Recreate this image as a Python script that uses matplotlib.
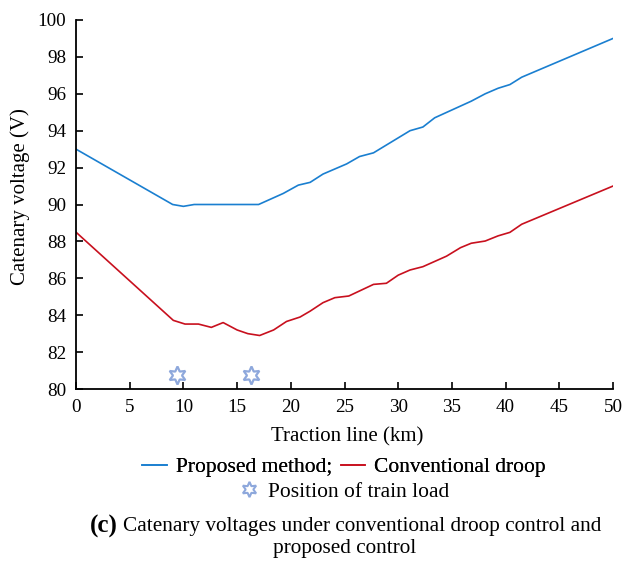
import matplotlib
matplotlib.use("Agg")
import matplotlib.pyplot as plt
from matplotlib.lines import Line2D

plt.rcParams['font.family'] = ['Liberation Serif', 'DejaVu Serif']

# Data
prop_x = [0, 9, 10, 11, 17, 19.3, 20.7, 21.8, 23, 25.2, 26.4, 27.7, 31.1, 32.3, 33.4,
          36.8, 38.1, 39.3, 40.4, 41.5, 50]
prop_y = [93, 90, 89.9, 90, 90, 90.6, 91.05, 91.2, 91.65, 92.2, 92.6, 92.8, 94.0, 94.2,
          94.7, 95.6, 96.0, 96.3, 96.5, 96.9, 99.0]
conv_x = [0, 9.06, 10.15, 11.4, 12.6, 13.7, 15.0, 16.0, 17.1, 18.4, 19.6, 20.86, 21.8,
          23.0, 24.1, 25.4, 27.7, 28.9, 30.0, 31.1, 32.3, 34.5, 35.8, 36.8, 38.1, 39.3,
          40.4, 41.5, 50]
conv_y = [88.5, 83.72, 83.52, 83.52, 83.34, 83.6, 83.2, 83.0, 82.9, 83.2, 83.66, 83.9,
          84.22, 84.68, 84.95, 85.04, 85.67, 85.73, 86.17, 86.45, 86.63, 87.2, 87.66,
          87.9, 88.02, 88.3, 88.49, 88.93, 91.0]
train_x = [9.4, 16.3]
train_y = [80.75, 80.75]
xticks = [0, 5, 10, 15, 20, 25, 30, 35, 40, 45, 50]
yticks = [80, 82, 84, 86, 88, 90, 92, 94, 96, 98, 100]

W, H = 624, 567
fig = plt.figure(figsize=(W/100, H/100), dpi=100)
ax = fig.add_axes([76/W, 1-389/H, (613-76)/W, (389-20)/H])

blue = '#1a7fd0'
red = '#c8101e'
star_c = '#8ea8dc'

ax.plot(prop_x, prop_y, color=blue, lw=1.2)
ax.plot(conv_x, conv_y, color=red, lw=1.2)
ax.plot(train_x, train_y, ls='none', marker=(6, 1, 0), ms=13, mfc='white',
        mec=star_c, mew=1.6)

ax.set_xlim(0, 50)
ax.set_ylim(80, 100)
ax.set_xticks(xticks)
ax.set_yticks(yticks)
for s in ['top', 'right']:
    ax.spines[s].set_visible(False)
for s in ['left', 'bottom']:
    ax.spines[s].set_linewidth(1.3)
ax.tick_params(direction='in', length=5, width=1.2, labelsize=13.8)
ax.tick_params(axis='y', pad=7)
ax.tick_params(axis='x', pad=7)

fig.text(347/W, 1-437/H, 'Traction line (km)', ha='center', va='center', fontsize=15)
fig.text(20/W, 1-197/H, 'Catenary voltage (V)', ha='center', va='center',
         rotation=90, fontsize=15)

h1 = [Line2D([], [], color=blue, lw=1.2), Line2D([], [], color=red, lw=1.2)]
leg1 = fig.legend(h1, ['Proposed method;', 'Conventional droop'], ncol=2,
                  loc='center', bbox_to_anchor=(344/W, 1-467/H), frameon=False,
                  fontsize=15.5, handlelength=1.15, handletextpad=0.4,
                  columnspacing=0.4, borderpad=0, borderaxespad=0)
h2 = [Line2D([], [], ls='none', marker=(6, 1, 0), ms=11, mfc='white', mec=star_c, mew=1.5)]
leg2 = fig.legend(h2, ['Position of train load'], loc='center',
                  bbox_to_anchor=(344/W, 1-492/H), frameon=False, fontsize=15.5,
                  handlelength=1.0, handletextpad=0.4, borderpad=0, borderaxespad=0)
fig.add_artist(leg1)

fig.text(118/W, 1-526/H, '(c)', ha='right', va='center', fontsize=18,
         fontweight='bold')
fig.text(123/W, 1-526/H, 'Catenary voltages under conventional droop control and',
         ha='left', va='center', fontsize=15.3)
fig.text(345/W, 1-549/H, 'proposed control', ha='center', va='center', fontsize=15.3)

fig.savefig('out.png', dpi=100)
